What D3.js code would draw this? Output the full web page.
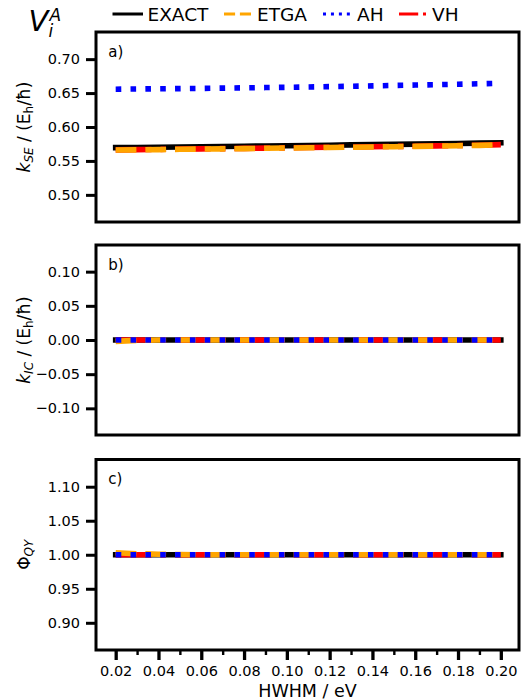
<!DOCTYPE html>
<html>
<head>
<meta charset="utf-8">
<title>Rates vs HWHM</title>
<script src="https://cdn.jsdelivr.net/npm/d3@7/dist/d3.min.js"></script>
<style>
  body { margin: 0; background: #fff; }
  text { font-family: "DejaVu Sans", sans-serif; }
</style>
</head>
<body>
<div id="chart"></div>
<script>
// broadening (x axis)
const hwhm = [0.02, 0.03, 0.04, 0.05, 0.06, 0.07, 0.08, 0.09, 0.10, 0.11,
              0.12, 0.13, 0.14, 0.15, 0.16, 0.17, 0.18, 0.19, 0.20];
const methods = ["EXACT", "ETGA", "AH", "VH"];

// panel a) k_SE
const kseExact = [0.5696, 0.5699, 0.5702, 0.5705, 0.5709, 0.5712, 0.5716, 0.5720, 0.5724, 0.5728,
                  0.5732, 0.5736, 0.5740, 0.5744, 0.5748, 0.5752, 0.5757, 0.5762, 0.5768];
const kseEtga  = [0.5660, 0.5663, 0.5667, 0.5671, 0.5675, 0.5678, 0.5682, 0.5686, 0.5690, 0.5694,
                  0.5698, 0.5702, 0.5706, 0.5710, 0.5714, 0.5719, 0.5724, 0.5729, 0.5738];
const kseAh    = [0.6557, 0.6560, 0.6563, 0.6566, 0.6569, 0.6573, 0.6577, 0.6581, 0.6585, 0.6590,
                  0.6595, 0.6600, 0.6606, 0.6612, 0.6618, 0.6624, 0.6630, 0.6637, 0.6644];
const kseVh    = [0.5663, 0.5666, 0.5670, 0.5674, 0.5678, 0.5681, 0.5685, 0.5689, 0.5693, 0.5697,
                  0.5701, 0.5705, 0.5709, 0.5713, 0.5717, 0.5722, 0.5727, 0.5732, 0.5740];

// panel b) k_IC
const kicExact = [0, 0, 0, 0, 0, 0, 0, 0, 0, 0, 0, 0, 0, 0, 0, 0, 0, 0, 0];
const kicEtga  = [-0.002, -0.0005, 0, 0, 0, 0, 0, 0, 0, 0, 0, 0, 0, 0, 0, 0, 0, 0, 0];
const kicAh    = [0, 0, 0, 0, 0, 0, 0, 0, 0, 0, 0, 0, 0, 0, 0, 0, 0, 0, 0];
const kicVh    = [0, 0, 0, 0, 0, 0, 0, 0, 0, 0, 0, 0, 0, 0, 0, 0, 0, 0, 0];

// panel c) quantum yield
const qyExact = [1, 1, 1, 1, 1, 1, 1, 1, 1, 1, 1, 1, 1, 1, 1, 1, 1, 1, 1];
const qyEtga  = [1.003, 1.0015, 1.0008, 1.0003, 1, 1, 1, 1, 1, 1, 1, 1, 1, 1, 1, 1, 1, 1, 1];
const qyAh    = [1, 1, 1, 1, 1, 1, 1, 1, 1, 1, 1, 1, 1, 1, 1, 1, 1, 1, 1];
const qyVh    = [1, 1, 1, 1, 1, 1, 1, 1, 1, 1, 1, 1, 1, 1, 1, 1, 1, 1, 1];

// tick labels
const kseTicks = [0.50, 0.55, 0.60, 0.65, 0.70];
const kicTicks = [-0.10, -0.05, 0.00, 0.05, 0.10];
const qyTicks = [0.90, 0.95, 1.00, 1.05, 1.10];
const hwhmTicks = [0.02, 0.04, 0.06, 0.08, 0.10, 0.12, 0.14, 0.16, 0.18, 0.20];
const hwhmMinor = [0.03, 0.05, 0.07, 0.09, 0.11, 0.13, 0.15, 0.17, 0.19];

const width = 524, height = 700;
const left = 96, right = 519;
const lw = 5.6;

// line styles (matplotlib-like dash patterns scaled by line width)
const styles = {
  EXACT: { color: "#000000", dash: null },
  ETGA: { color: "#ffa500", dash: [3.7, 1.6] },
  AH: { color: "#0000ff", dash: [1, 1.65] },
  VH: { color: "#ff0000", dash: [6.4, 1.6, 1, 1.6] }
};
const drawOrder = ["EXACT", "VH", "ETGA", "AH"];

const panels = [
  { tag: "a)", top: 32, bottom: 222, domain: [0.46, 0.74], ticks: kseTicks,
    series: { EXACT: kseExact, ETGA: kseEtga, AH: kseAh, VH: kseVh }, label: "kse" },
  { tag: "b)", top: 245, bottom: 435, domain: [-0.139, 0.139], ticks: kicTicks,
    series: { EXACT: kicExact, ETGA: kicEtga, AH: kicAh, VH: kicVh }, label: "kic" },
  { tag: "c)", top: 459.5, bottom: 650, domain: [0.86, 1.14], ticks: qyTicks,
    series: { EXACT: qyExact, ETGA: qyEtga, AH: qyAh, VH: qyVh }, label: "qy" }
];

const svg = d3.select("#chart").append("svg")
  .attr("width", width)
  .attr("height", height);

const x = d3.scaleLinear().domain([0.0108, 0.2085]).range([left, right]);

function dashFor(st, w) {
  return st.dash ? st.dash.map(d => d * w).join(",") : null;
}
const fmt = d => (d < 0 ? "\u2212" : "") + Math.abs(d).toFixed(2);

panels.forEach((p, pi) => {
  const y = d3.scaleLinear().domain(p.domain).range([p.bottom, p.top]);
  const g = svg.append("g");

  // lines
  const line = d3.line().x(d => x(d[0])).y(d => y(d[1]));
  drawOrder.forEach(m => {
    const st = styles[m];
    const pts = hwhm.map((h, i) => [h, p.series[m][i]]);
    g.append("path")
      .attr("d", line(pts))
      .attr("fill", "none")
      .attr("stroke", st.color)
      .attr("stroke-width", lw)
      .attr("stroke-linecap", st.dash ? "butt" : "square")
      .attr("stroke-dasharray", dashFor(st, lw));
  });

  // y axis
  const yAxis = d3.axisLeft(y)
    .tickValues(p.ticks)
    .tickSize(10)
    .tickPadding(6)
    .tickFormat(fmt);
  const ya = g.append("g").attr("transform", `translate(${left},0)`).call(yAxis);
  ya.select(".domain").remove();
  ya.selectAll(".tick line").attr("stroke", "#000").attr("stroke-width", 3);
  ya.selectAll(".tick text").attr("font-size", 14.5).attr("fill", "#000")
    .style("font-family", "DejaVu Sans");

  // x axis only on the last panel
  if (pi === panels.length - 1) {
    const xa = g.append("g").attr("transform", `translate(0,${p.bottom})`)
      .call(d3.axisBottom(x).tickValues(hwhmTicks).tickSize(10).tickPadding(6)
        .tickFormat(fmt));
    xa.select(".domain").remove();
    xa.selectAll(".tick line").attr("stroke", "#000").attr("stroke-width", 3.3);
    xa.selectAll(".tick text").attr("font-size", 14.5).attr("fill", "#000")
      .style("font-family", "DejaVu Sans");
    const xm = g.append("g").attr("transform", `translate(0,${p.bottom})`)
      .call(d3.axisBottom(x).tickValues(hwhmMinor).tickSize(5).tickFormat(""));
    xm.select(".domain").remove();
    xm.selectAll(".tick line").attr("stroke", "#000").attr("stroke-width", 2.4);
  }

  // frame
  g.append("rect")
    .attr("x", left).attr("y", p.top)
    .attr("width", right - left).attr("height", p.bottom - p.top)
    .attr("fill", "none").attr("stroke", "#000").attr("stroke-width", 3);

  // panel tag
  g.append("text")
    .attr("x", left + 12.3).attr("y", p.top + 24.5)
    .attr("font-size", 15)
    .text(p.tag);

  // y label
  const cy = (p.top + p.bottom) / 2;
  const lab = g.append("text")
    .attr("transform", `translate(30,${cy}) rotate(-90)`)
    .attr("text-anchor", "middle")
    .attr("font-size", 17);
  if (p.label === "qy") {
    lab.append("tspan").text("Φ");
    lab.append("tspan").attr("font-style", "italic").attr("font-size", 12).attr("dy", 3).text("QY");
  } else {
    lab.append("tspan").attr("font-style", "italic").text("k");
    lab.append("tspan").attr("font-style", "italic").attr("font-size", 12).attr("dy", 3)
      .text(p.label === "kse" ? "SE" : "IC");
    lab.append("tspan").attr("dy", -3).text(" / (E");
    lab.append("tspan").attr("font-size", 12).attr("dy", 3).text("h");
    lab.append("tspan").attr("dy", -3).text("/ħ)");
  }
});

// x label
svg.append("text")
  .attr("x", (left + right) / 2).attr("y", 696.5)
  .attr("text-anchor", "middle")
  .attr("font-size", 17.5)
  .text("HWHM / eV");

// title V_i^A
const title = svg.append("g").attr("font-style", "italic");
title.append("text").attr("x", 28.5).attr("y", 30.7).attr("font-size", 29).text("V");
title.append("text").attr("x", 49.5).attr("y", 20.7).attr("font-size", 17).text("A");
title.append("text").attr("x", 48.5).attr("y", 37.3).attr("font-size", 17).text("i");

// legend
const legendX = [{ m: "EXACT", hx: 114, tx: 147.5 }, { m: "ETGA", hx: 224, tx: 257 },
                 { m: "AH", hx: 323, tx: 357 }, { m: "VH", hx: 399, tx: 432 }];
const legLw = 3;
const leg = svg.append("g");
legendX.forEach(d => {
  const st = styles[d.m];
  leg.append("line")
    .attr("x1", d.hx).attr("x2", d.hx + (st.dash ? 27 : 27.5))
    .attr("y1", 14).attr("y2", 14)
    .attr("stroke", st.color)
    .attr("stroke-width", legLw)
    .attr("stroke-linecap", st.dash ? "butt" : "square")
    .attr("stroke-dasharray", dashFor(st, legLw));
  leg.append("text")
    .attr("x", d.tx).attr("y", 20.7)
    .attr("font-size", 18.5)
    .text(d.m);
});
</script>
</body>
</html>
